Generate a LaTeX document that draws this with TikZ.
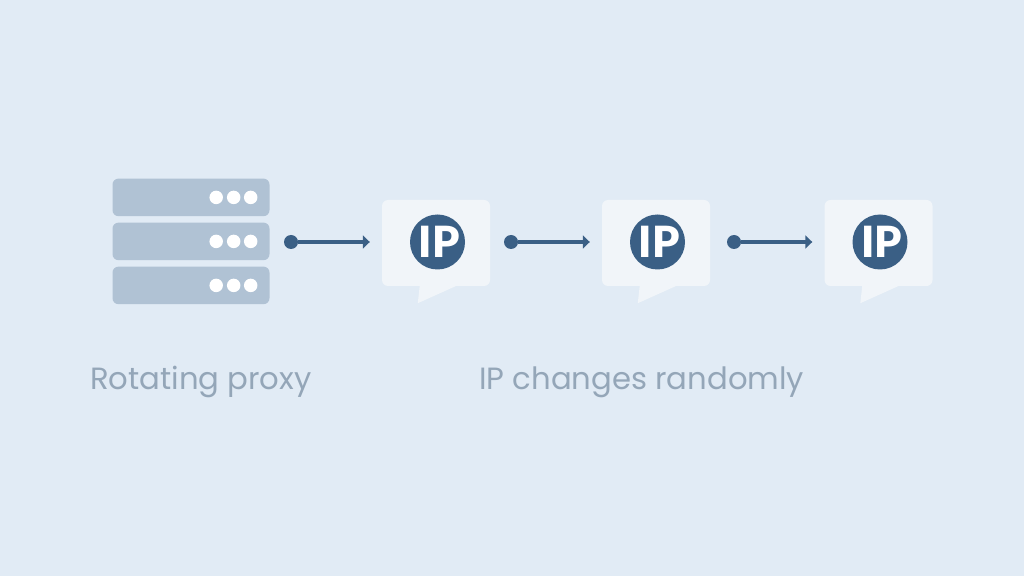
\documentclass[tikz,border=0pt]{standalone}
\usepackage{fontspec}
\setmainfont{Poppins}
\newfontfamily\ipfont[BoldFont={Lato Black}]{Lato}
\usepackage{xcolor}
\definecolor{cback}{HTML}{E1EBF5}
\definecolor{cserver}{HTML}{B0C2D4}
\definecolor{cbubble}{HTML}{F1F5F9}
\definecolor{cdark}{HTML}{3A5F85}
\definecolor{ctext}{HTML}{94A6B8}
\usetikzlibrary{positioning, arrows.meta}
\tikzset{
x=1pt, y=1pt,
Server/.style={
	fill=cserver,
	rounded corners=6pt,
	minimum width=157pt,
	minimum height=37.6pt,
	inner sep=0pt
},
Led/.style={
	circle, fill=white,
	minimum size=13.5pt,
	inner sep=0pt
},
Bubble/.style={
	fill=cbubble,
	rounded corners=6pt,
	minimum width=108pt,
	minimum height=86pt,
	inner sep=0pt
},
Badge/.style={
	circle, fill=cdark, text=white,
	minimum size=55pt,
	inner sep=0pt,
	font=\fontsize{43}{43}\selectfont\ipfont\bfseries
},
Start/.style={
	circle, fill=cdark,
	minimum size=14pt,
	inner sep=0pt
},
Link/.style={
	draw=cdark,
	line width=3.4pt,
	-{Triangle[length=7pt,width=13pt]},
	shorten >=12pt
},
Caption/.style={
	text=ctext,
	inner sep=0pt,
	anchor=base west,
	font=\fontsize{30.7}{31}\selectfont
}
}

\begin{document}
\begin{tikzpicture}
	\fill[cback] (0,0) rectangle (1024,576);
	\useasboundingbox (0,0) rectangle (1024,576);

	\node[Server] (S2) at (191,334.6) {};
	\node[Server, above=6pt of S2] (S1) {};
	\node[Server, below=6pt of S2] (S3) {};
	\foreach \s in {S1,S2,S3} {
		\node[Led] at ([xshift=-53.5pt]\s.east) {};
		\node[Led] at ([xshift=-36pt]\s.east) {};
		\node[Led] at ([xshift=-19pt]\s.east) {};
	}

	\node[Bubble] (B1) at (436,333) {};
	\node[Bubble] (B2) at (656,333) {};
	\node[Bubble] (B3) at (878.5,333) {};
	\foreach \b in {B1,B2,B3} {
		\fill[cbubble] ([xshift=38pt,yshift=1pt]\b.south west) -- ([xshift=36pt,yshift=-17pt]\b.south west)
			-- ([xshift=76pt,yshift=1pt]\b.south west) -- cycle;
	}

	\node[Badge] (I1) at (437.5,334) {\kern3pt IP};
	\node[Badge] (I2) at (657.5,334) {\kern3pt IP};
	\node[Badge] (I3) at (880,334) {\kern3pt IP};

	\node[Start] (D1) at (291,334) {};
	\node[Start] (D2) at (511,334) {};
	\node[Start] (D3) at (734,334) {};

	\draw[Link] (D1) -- (D1 -| B1.west);
	\draw[Link] (D2) -- (D2 -| B2.west);
	\draw[Link] (D3) -- (D3 -| B3.west);

	\node[Caption] (proxy) at (90,186.5) {Rotating proxy};
	\node[Caption] (random) at (479,186.5) {IP changes randomly};
\end{tikzpicture}
\end{document}
